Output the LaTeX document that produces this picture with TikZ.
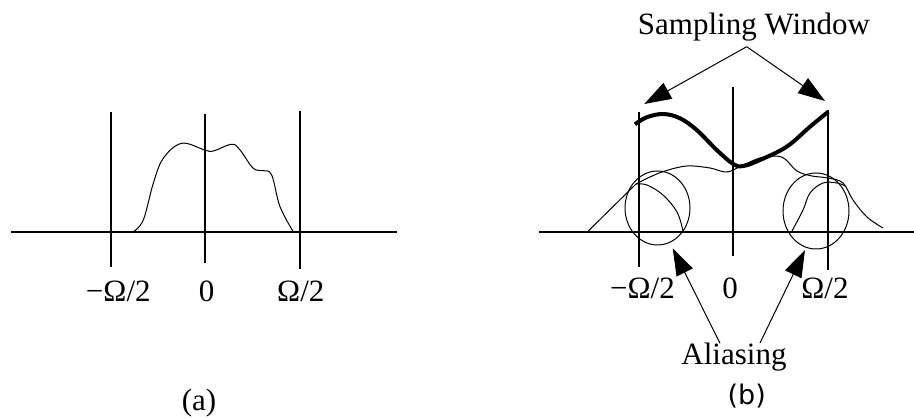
\documentclass[tikz,border=0pt]{standalone}
\usepackage{fontspec}
\setmainfont{Liberation Serif}
\newfontfamily\labfont{DejaVu Sans}
\usetikzlibrary{arrows.meta}
\begin{document}
\begin{tikzpicture}[x=1pt,y=-1pt,
  axisline/.style={line width=2pt},
  vline/.style={line width=1.8pt},
  thin/.style={line width=1pt},
  thick curve/.style={line width=4pt},
  lbl/.style={font=\fontsize{31}{36}\selectfont, anchor=base, inner sep=0pt},
  pointer/.style={line width=1pt, -{Triangle[length=27pt,width=18pt]}},
  caption/.style={font=\fontsize{31}{36}\selectfont, inner sep=0pt}
]
\useasboundingbox (0,0) rectangle (914,419);

% ---------- panel (a) ----------
\draw[axisline] (11,232) -- (397,232);
\draw[vline] (111,112) -- (111,267);
\draw[vline] (205,114) -- (205,263);
\draw[vline] (300,111) -- (300,269);
\draw[thin] plot[smooth, tension=0.6] coordinates {
  (133.3,231.7) (143.3,220) (153.3,183.3) (163.3,158.3) (181.7,143.3)
  (204.7,150) (213.3,151) (231.7,144.3) (240,150) (253.3,168.3)
  (263.3,170.7) (271.7,175) (280,206.7) (293.3,231.7)};
\node[lbl] (am) at (118.3,301.7) {−Ω/2};
\node[lbl] (az) at (206.7,301.7) {0};
\node[lbl] (ap) at (300.8,301.7) {Ω/2};
\node[caption] (capa) at (199,403) {(a)};

% ---------- panel (b) ----------
\draw[axisline] (539,232) -- (914,232);
\draw[vline] (639,112) -- (639,267);
\draw[vline] (732.7,87) -- (732.7,256);
\draw[vline] (827.7,110) -- (827.7,270);

% thin spectrum
\draw[thin] (588.3,231) -- (636,184)
  plot[smooth, tension=0.6] coordinates {
  (636,184) (650,177) (665,171) (687,166) (710,168) (727,172) (743,165)
  (760,158) (775,156) (785,159) (797,171) (812,176) (828,178) (843,183)
  (853,200) (867,217) (883,228)};
% aliased copies
\draw[thin] plot[smooth, tension=0.6] coordinates {
  (636,184) (647,185) (663,195) (677,212) (683,231)};
\draw[thin] plot[smooth, tension=0.6] coordinates {
  (792,231) (803,210) (810,193) (823,183) (837,183) (845,186)};
% circles
\draw[thin] (657.5,208) ellipse [x radius=32.5, y radius=37];
\draw[thin] (816,211) ellipse [x radius=33, y radius=38];

% sampling window (thick)
\draw[thick curve, line cap=butt] plot[smooth, tension=0.6] coordinates {
  (635,124.3) (646.7,117.3) (663.3,114) (680,118.3) (696.7,130)
  (716.7,150) (733.3,164) (743.3,166) (760,160) (786.7,146.7)
  (810,126.7) (828.3,111.7)};

\node[lbl] (bm) at (642.5,299) {−Ω/2};
\node[lbl] (bz) at (730,299) {0};
\node[lbl] (bp) at (825,299) {Ω/2};

\node[lbl] (sw) at (754,35) {Sampling Window};
\coordinate (swfrom) at (746.7,46.7);
\coordinate (swl) at (644.3,104);
\coordinate (swr) at (825,101);
\draw[pointer] (swfrom) -- (swl);
\draw[pointer] (swfrom) -- (swr);

\node[lbl] (al) at (734,365) {Aliasing};
\coordinate (alfroml) at (720,343.3);
\coordinate (alfromr) at (760,343);
\coordinate (altipl) at (672.7,248.3);
\coordinate (altipr) at (805,250);
\draw[pointer] (alfroml) -- (altipl);
\draw[pointer] (alfromr) -- (altipr);

\node[caption, font=\labfont\fontsize{27}{32}\selectfont] (capb) at (746.7,396.5) {(b)};
\end{tikzpicture}
\end{document}
